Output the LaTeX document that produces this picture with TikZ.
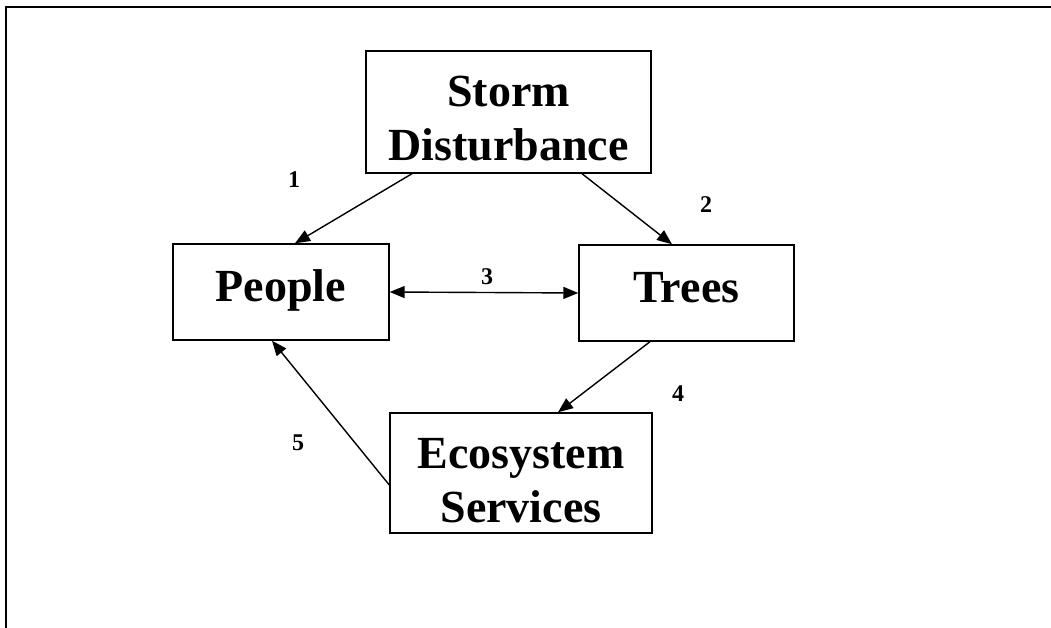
\documentclass[tikz,border=0pt]{standalone}
\usepackage{fontspec}
\setmainfont{Liberation Serif}
\usetikzlibrary{arrows.meta}

\begin{document}
\begin{tikzpicture}[x=1pt, y=1pt, >={Triangle[length=15pt, width=12pt]},
        main/.style = {draw, line width=1.4pt, align=center, font=\fontsize{46}{54}\selectfont\bfseries},
        single/.style = {main, text height=32pt, text depth=12pt},
        num/.style = {font=\fontsize{24}{26}\selectfont\bfseries},
        link/.style = {->, line width=1.4pt}]
            \useasboundingbox (0,0) rectangle (1051,628);
            \draw[line width=2pt] (6,0) -- (6,621) -- (1051,621);
            \node[main, minimum width=285pt, minimum height=122pt] (storm) at (508.5,516) {\rule{0pt}{44pt}Storm\\Disturbance};
            \node[single, minimum width=216pt, minimum height=96pt] (people) at (281,336) {People};
            \node[single, minimum width=215pt, minimum height=96pt] (trees) at (686.5,335) {Trees};
            \node[main, minimum width=262pt, minimum height=120pt] (eco) at (521,155) {\rule{0pt}{46pt}Ecosystem\\Services};
            \draw[link] ([xshift=-96.5pt]storm.south) -- ([xshift=14pt]people.north);
            \draw[link] ([xshift=73.5pt]storm.south) -- ([xshift=-14.5pt]trees.north);
            \draw[link, <->] (people.east) -- (trees.west);
            \draw[link] ([xshift=-36.5pt]trees.south) -- ([xshift=37pt]eco.north);
            \draw[link] ([yshift=-12pt]eco.west) -- ([xshift=-9pt]people.south);
            \node[num] (n1) at (294,448) {1};
            \node[num] (n2) at (706,423) {2};
            \node[num] (n3) at (487,351) {3};
            \node[num] (n4) at (678,234) {4};
            \node[num] (n5) at (298,185) {5};
        \end{tikzpicture}
\end{document}
